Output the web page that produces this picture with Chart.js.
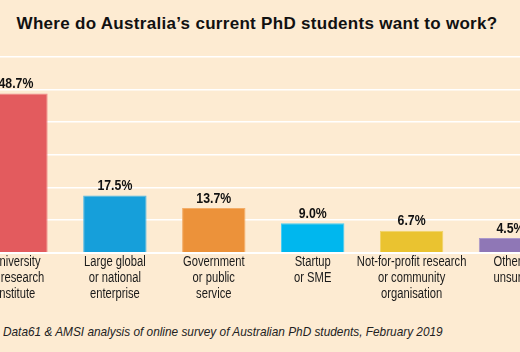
<!DOCTYPE html>
<html>
<head>
<meta charset="utf-8">
<script src="https://cdn.jsdelivr.net/npm/chart.js@4/dist/chart.umd.min.js"></script>
<style>
  html, body { margin: 0; padding: 0; }
  #wrap {
    position: relative;
    width: 520px;
    height: 352px;
    overflow: hidden;
    background: #fdebd2;
  }
  #title {
    position: absolute;
    left: 0;
    top: 14px;
    width: 514px;
    text-align: center;
    font: bold 17px "Liberation Sans", Arial, sans-serif;
    color: #111;
    letter-spacing: 0.3px;
  }
  #source {
    position: absolute;
    left: 3px;
    top: 324px;
    white-space: nowrap;
    font: italic 13px "Liberation Sans", Arial, sans-serif;
    color: #222;
    transform: scaleX(0.91);
    transform-origin: 0 0;
  }
  canvas { position: absolute; left: -60px; top: 0; }
</style>
</head>
<body>
<div id="wrap">
  <div id="title">Where do Australia’s current PhD students want to work?</div>
  <canvas id="chart" width="640" height="303"></canvas>
  <div id="source">Data61 &amp; AMSI analysis of online survey of Australian PhD students, February 2019</div>
</div>
<script>
const categories = [
  ["University", "or research", "institute"],
  ["Large global", "or national", "enterprise"],
  ["Government", "or public", "service"],
  ["Startup", "or SME"],
  ["Not-for-profit research", "or community", "organisation"],
  ["Other /", "unsure"]
];
const shares = [48.7, 17.5, 13.7, 9.0, 6.7, 4.5];
const barColors = ["#e35b5e", "#169fda", "#ec923a", "#00b7ee", "#eac330", "#8f77b6"];
const edgeColors = ["#f08a8a", "#4fb8e6", "#f3ad68", "#48cdf3", "#f0d366", "#ab98cb"];

const sans = '"Liberation Sans", Arial, sans-serif';
const squeeze = 0.8; // no condensed face installed, so squeeze the text

// value labels above each bar
const barLabels = {
  id: "barLabels",
  afterDatasetsDraw(chart) {
    const ctx = chart.ctx;
    const meta = chart.getDatasetMeta(0);
    ctx.save();
    ctx.font = "bold 15px " + sans;
    ctx.fillStyle = "#111";
    ctx.textAlign = "center";
    ctx.textBaseline = "bottom";
    meta.data.forEach((bar, i) => {
      ctx.save();
      ctx.translate(bar.x, bar.y - 2);
      ctx.scale(0.82, 1);
      ctx.fillText(shares[i].toFixed(1) + "%", 0, 0);
      ctx.restore();
    });
    ctx.restore();
  }
};

// category labels, condensed, placed on the x scale's tick positions
const condensedTicks = {
  id: "condensedTicks",
  afterDraw(chart) {
    const ctx = chart.ctx;
    const xs = chart.scales.x;
    ctx.save();
    ctx.font = "14px " + sans;
    ctx.fillStyle = "#1a1a1a";
    ctx.textAlign = "center";
    ctx.textBaseline = "middle";
    categories.forEach((lines, i) => {
      const x = xs.getPixelForTick(i);
      lines.forEach((line, j) => {
        ctx.save();
        ctx.translate(x, xs.top + 9 + j * 16);
        ctx.scale(squeeze, 1);
        ctx.fillText(line, 0, 0);
        ctx.restore();
      });
    });
    ctx.restore();
  }
};

new Chart(document.getElementById("chart"), {
  type: "bar",
  data: {
    labels: categories,
    datasets: [{
      data: shares,
      backgroundColor: barColors,
      borderColor: edgeColors,
      borderWidth: 1,
      barPercentage: 0.641,
      categoryPercentage: 1
    }]
  },
  options: {
    responsive: false,
    animation: false,
    layout: { padding: { left: 26.5, right: 20, top: 56.7, bottom: 0 } },
    plugins: {
      legend: { display: false },
      tooltip: { enabled: false }
    },
    scales: {
      x: {
        grid: { display: false, drawTicks: false },
        border: { color: "#ffffff", width: 2 },
        ticks: {
          color: "rgba(0,0,0,0)",
          padding: 1,
          maxRotation: 0,
          autoSkip: false,
          font: { family: sans, size: 14, lineHeight: 1.15 }
        }
      },
      y: {
        min: 0,
        max: 60,
        ticks: { display: false, stepSize: 10 },
        border: { display: false },
        grid: { color: "#ffffff", lineWidth: 1.5, drawTicks: false },
        afterFit: (s) => { s.width = 0; }
      }
    }
  },
  plugins: [barLabels, condensedTicks]
});
</script>
</body>
</html>
